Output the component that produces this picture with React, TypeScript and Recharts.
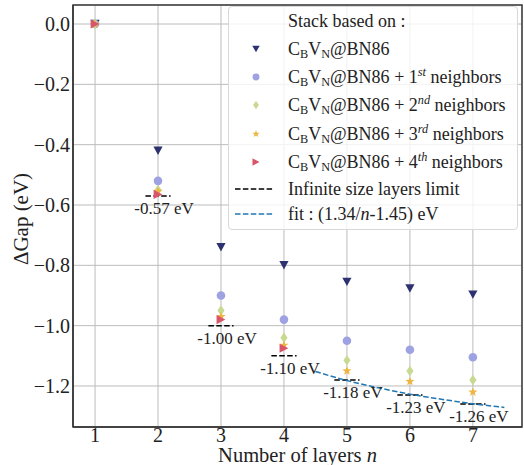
import React from 'react';
import {
  ComposedChart,
  Scatter,
  Line,
  XAxis,
  YAxis,
  CartesianGrid,
  ReferenceLine,
  ReferenceArea,
  Label,
} from 'recharts';

const FONT = "'Liberation Serif', 'DejaVu Serif', serif";

// number of layers n
const layers = [1, 2, 3, 4, 5, 6, 7];
// ΔGap (eV) for each stack family
const baseGap = [0, -0.42, -0.74, -0.8, -0.855, -0.877, -0.897];
const firstNeighborsGap = [0, -0.52, -0.9, -0.98, -1.05, -1.08, -1.105];
const secondNeighborsGap = [0, -0.55, -0.95, -1.04, -1.115, -1.15, -1.18];
const thirdNeighborsGap = [0, -0.555, -0.97, -1.065, -1.15, -1.185, -1.22];
const fourthNeighborsGap = [0, -0.565, -0.98, -1.075];

// infinite size layers limit
const limitLayers = [2, 3, 4, 5, 6, 7];
const limitGap = [-0.57, -1.0, -1.1, -1.18, -1.23, -1.26];
const limitLabels = ['-0.57 eV', '-1.00 eV', '-1.10 eV', '-1.18 eV', '-1.23 eV', '-1.26 eV'];

// fit curve
const fitLayers = [4.5, 5, 5.5, 6, 6.5, 7, 7.5];
const fitGap = [-1.152, -1.182, -1.206, -1.227, -1.244, -1.259, -1.271];

const xTicks = [1, 2, 3, 4, 5, 6, 7];
const yTicks = [0, -0.2, -0.4, -0.6, -0.8, -1.0, -1.2];

const X_DOMAIN = [0.65, 7.78];
const Y_DOMAIN = [-1.336, 0.063];

const COLORS = {
  base: '#2d3170',
  first: '#9ea2e2',
  second: '#c8d991',
  third: '#eeb640',
  fourth: '#d8566a',
  fit: '#1f77b4',
};

type Kind = 'triDown' | 'circle' | 'diamond' | 'star' | 'triRight';

function Marker({ kind, cx, cy, color, s = 1 }: { kind: Kind; cx: number; cy: number; color: string; s?: number }) {
  if (kind === 'triDown') {
    const w = 4.6 * s;
    const h = 4.2 * s;
    return <polygon points={`${cx - w},${cy - h} ${cx + w},${cy - h} ${cx},${cy + h}`} fill={color} />;
  }
  if (kind === 'triRight') {
    const w = 4.4 * s;
    const h = 4.6 * s;
    return <polygon points={`${cx - w},${cy - h} ${cx - w},${cy + h} ${cx + w},${cy}`} fill={color} />;
  }
  if (kind === 'circle') {
    return <circle cx={cx} cy={cy} r={4.3 * s} fill={color} />;
  }
  if (kind === 'diamond') {
    const w = 3.6 * s;
    const h = 5.2 * s;
    return <polygon points={`${cx},${cy - h} ${cx + w},${cy} ${cx},${cy + h} ${cx - w},${cy}`} fill={color} />;
  }
  // star
  const pts: string[] = [];
  const ro = 4.8 * s;
  const ri = 2.0 * s;
  for (let i = 0; i < 10; i++) {
    const r = i % 2 === 0 ? ro : ri;
    const a = -Math.PI / 2 + (i * Math.PI) / 5;
    pts.push(`${cx + r * Math.cos(a)},${cy + r * Math.sin(a)}`);
  }
  return <polygon points={pts.join(' ')} fill={color} />;
}

const toPoints = (values: number[]) => values.map((y, i) => ({ x: layers[i], y }));

const series: { name: string; kind: Kind; color: string; values: number[] }[] = [
  { name: 'base', kind: 'triDown', color: COLORS.base, values: baseGap },
  { name: 'first', kind: 'circle', color: COLORS.first, values: firstNeighborsGap },
  { name: 'second', kind: 'diamond', color: COLORS.second, values: secondNeighborsGap },
  { name: 'third', kind: 'star', color: COLORS.third, values: thirdNeighborsGap },
  { name: 'fourth', kind: 'triRight', color: COLORS.fourth, values: fourthNeighborsGap },
];

const fitData = fitLayers.map((x, i) => ({ x, y: fitGap[i] }));

const formatY = (v: number) => (v === 0 ? '0.0' : `\u2212${Math.abs(v).toFixed(1)}`);

function XTitle(props: any) {
  const { viewBox } = props;
  const cx = 73 + (524 - 2 - 73) / 2;
  return (
    <text x={cx} y={viewBox.y + viewBox.height - 3} textAnchor="middle" fontSize={20.5} fill="#222" fontFamily={FONT}>
      Number of layers <tspan fontStyle="italic">n</tspan>
    </text>
  );
}

function YTitle(props: any) {
  const { viewBox } = props;
  const cy = viewBox.y + viewBox.height / 2 + 3;
  return (
    <text
      x={21}
      y={cy}
      transform={`rotate(-90, 21, ${cy})`}
      textAnchor="middle"
      dominantBaseline="central"
      fontSize={21}
      fill="#222"
      fontFamily={FONT}
    >
      ΔGap (eV)
    </text>
  );
}

const sub: React.CSSProperties = { fontSize: '0.68em', verticalAlign: '-0.25em', lineHeight: 0 };
const sup: React.CSSProperties = { fontSize: '0.68em', verticalAlign: '0.55em', lineHeight: 0, fontStyle: 'italic' };

const stack = (
  <>
    C<sub style={sub}>B</sub>V<sub style={sub}>N</sub>@BN86
  </>
);

const legendRows: { kind?: Kind; color?: string; dash?: string; h: number; text: React.ReactNode }[] = [
  { h: 28, text: 'Stack based on :' },
  { kind: 'triDown', color: COLORS.base, h: 28, text: stack },
  { kind: 'circle', color: COLORS.first, h: 27, text: <>{stack} + 1<sup style={sup}>st</sup> neighbors</> },
  { kind: 'diamond', color: COLORS.second, h: 29, text: <>{stack} + 2<sup style={sup}>nd</sup> neighbors</> },
  { kind: 'star', color: COLORS.third, h: 29, text: <>{stack} + 3<sup style={sup}>rd</sup> neighbors</> },
  { kind: 'triRight', color: COLORS.fourth, h: 28, text: <>{stack} + 4<sup style={sup}>th</sup> neighbors</> },
  { dash: '#000', h: 25, text: 'Infinite size layers limit' },
  { dash: COLORS.fit, h: 26, text: <>fit : (1.34/<i>n</i>-1.45) eV</> },
];

function ChartLegend() {
  return (
    <div
      style={{
        position: 'absolute',
        left: 228,
        top: 6,
        width: 290,
        height: 224,
        boxSizing: 'border-box',
        border: '1px solid #d8d8d8',
        borderRadius: 4,
        background: 'rgba(255,255,255,0.8)',
        fontSize: 18,
        fontFamily: FONT,
        color: '#222',
      }}
    >
      {legendRows.map((row, i) => (
        <div key={i} style={{ position: 'relative', height: row.h, display: 'flex', alignItems: 'center' }}>
          {row.kind && (
            <svg width={20} height={20} style={{ position: 'absolute', left: 17, top: row.h / 2 - 10 }}>
              <Marker kind={row.kind} cx={10} cy={10} color={row.color!} s={0.8} />
            </svg>
          )}
          {row.dash && (
            <svg width={40} height={6} style={{ position: 'absolute', left: 6, top: row.h / 2 - 3 }}>
              <line x1={0} y1={3} x2={39} y2={3} stroke={row.dash} strokeWidth={1.5} strokeDasharray="5.5 2.4" />
            </svg>
          )}
          <span style={{ position: 'absolute', left: 59, whiteSpace: 'nowrap', lineHeight: 1 }}>{row.text}</span>
        </div>
      ))}
    </div>
  );
}

export default function App() {
  return (
    <div style={{ position: 'absolute', left: 0, top: 0, width: 524, height: 465, background: '#fff', fontFamily: FONT }}>
      <ComposedChart width={524} height={465} margin={{ top: 5, right: 2, left: 0, bottom: 0 }} style={{ fontFamily: FONT }}>
        <CartesianGrid stroke="#bcbcbc" strokeWidth={1} />
        <XAxis
          type="number"
          dataKey="x"
          domain={X_DOMAIN}
          ticks={xTicks}
          allowDataOverflow
          height={38}
          tickLine={false}
          tickSize={0}
          tickMargin={1}
          axisLine={{ stroke: '#3a3a3a', strokeWidth: 1.5 }}
          tick={{ fontSize: 20, fill: '#222', fontFamily: FONT }}
        >
          <Label content={XTitle} />
        </XAxis>
        <YAxis
          type="number"
          dataKey="y"
          domain={Y_DOMAIN}
          ticks={yTicks}
          allowDataOverflow
          width={73}
          tickLine={false}
          tickSize={0}
          tickMargin={3}
          axisLine={{ stroke: '#3a3a3a', strokeWidth: 1.5 }}
          tick={{ fontSize: 20, fill: '#222', fontFamily: FONT }}
          tickFormatter={formatY}
        >
          <Label content={YTitle} />
        </YAxis>
        <ReferenceArea
          x1={X_DOMAIN[0]}
          x2={X_DOMAIN[1]}
          y1={Y_DOMAIN[0]}
          y2={Y_DOMAIN[1]}
          fill="none"
          stroke="#3a3a3a"
          strokeWidth={1.5}
          ifOverflow="visible"
        />
        {series.map((s) => (
          <Scatter
            key={s.name}
            name={s.name}
            data={toPoints(s.values)}
            dataKey="y"
            isAnimationActive={false}
            shape={(p: any) => <Marker kind={s.kind} cx={p.cx} cy={p.cy} color={s.color} />}
          />
        ))}
        {limitLayers.map((n, i) => (
          <ReferenceLine
            key={n}
            segment={[
              { x: n - 0.2, y: limitGap[i] },
              { x: n + 0.2, y: limitGap[i] },
            ]}
            stroke="#000"
            strokeWidth={1.5}
            strokeDasharray="5.5 2.4"
            label={{ value: limitLabels[i], position: 'bottom', offset: 6, dx: 6, fill: '#222', fontSize: 17, fontFamily: FONT }}
          />
        ))}
        <Line
          data={fitData}
          dataKey="y"
          type="monotone"
          stroke={COLORS.fit}
          strokeWidth={1.5}
          strokeDasharray="5.5 2.4"
          dot={false}
          activeDot={false}
          isAnimationActive={false}
        />
      </ComposedChart>
      <ChartLegend />
    </div>
  );
}
